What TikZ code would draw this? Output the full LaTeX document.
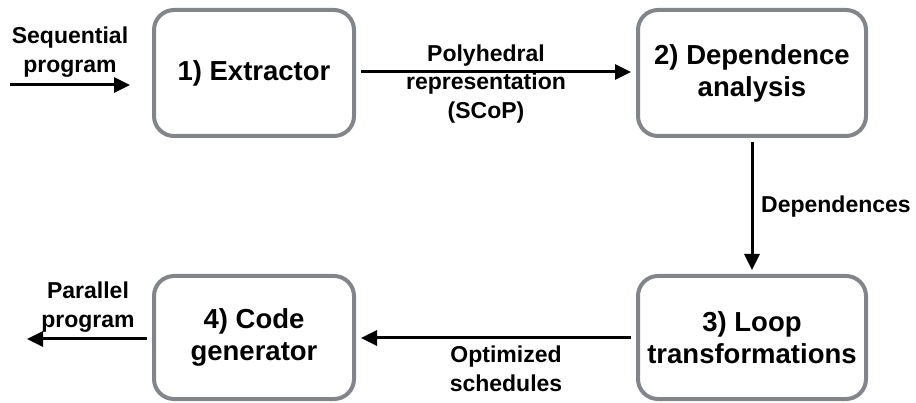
\documentclass[tikz,border=0pt]{standalone}
\usepackage{fontspec}
\setmainfont{Liberation Sans}
\usetikzlibrary{arrows.meta}
\definecolor{boxgray}{RGB}{130,133,138}
\tikzset{
  x=1pt, y=1pt,
  stage/.style={draw=boxgray, line width=4pt, rounded corners=20pt, fill=white,
    align=center, inner sep=0pt, font=\fontsize{27.5}{32}\selectfont\bfseries},
  lbl/.style={align=center, inner sep=0pt, font=\fontsize{23}{28.5}\selectfont\bfseries},
  arr/.style={line width=3pt, -{Triangle[length=16pt,width=15pt]}}
}
\begin{document}
\begin{tikzpicture}
\useasboundingbox (0,0) rectangle (916,-403);
\node[stage, minimum width=200pt, minimum height=126pt] (b1) at (254,-73) {1) Extractor};
\node[stage, minimum width=228pt, minimum height=126pt] (b2) at (752,-73) {2) Dependence\\analysis};
\node[stage, minimum width=228pt, minimum height=123pt] (b3) at (752,-337.5) {3) Loop\\transformations};
\node[stage, minimum width=200pt, minimum height=123pt] (b4) at (254,-337.5) {4) Code\\generator};
\coordinate (sin) at (10,-85);
\coordinate (pout) at (27,-339);
\draw[arr, shorten >=22pt] (sin) -- (b1.west |- sin);
\draw[arr, shorten <=5pt, shorten >=5pt] (b1.east |- 0,-72) -- (b2.west |- 0,-72);
\draw[arr, shorten <=4pt, shorten >=4pt] (b2.south) -- (b3.north);
\draw[arr, shorten <=5pt, shorten >=5pt] (b3.west |- 0,-338) -- (b4.east |- 0,-338);
\draw[arr, shorten <=5pt] (b4.west |- pout) -- (pout);
\node[lbl] (l1) at (70,-52) {Sequential\\program};
\node[lbl] (l2) at (486,-84) {Polyhedral\\representation\\(SCoP)};
\node[lbl, anchor=west] (l3) at (761,-207) {Dependences};
\node[lbl] (l4) at (506,-369) {Optimized\\schedules};
\node[lbl] (l5) at (88,-307) {Parallel\\program};
\end{tikzpicture}
\end{document}
